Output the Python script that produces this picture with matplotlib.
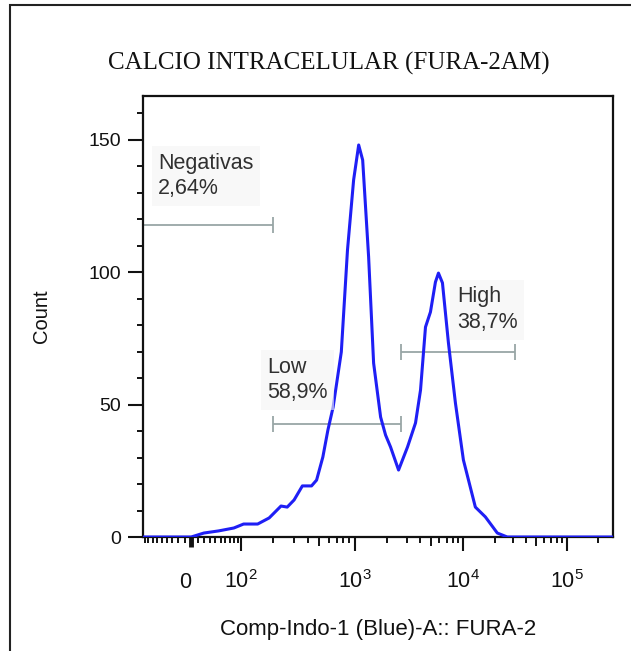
import numpy as np
import matplotlib
matplotlib.use('Agg')
import matplotlib.pyplot as plt
from matplotlib.patches import Rectangle

plt.rcParams['font.family'] = ['Liberation Sans', 'DejaVu Sans']
plt.rcParams['mathtext.fontset'] = 'custom'
plt.rcParams['mathtext.rm'] = 'Liberation Sans'
plt.rcParams['mathtext.it'] = 'Liberation Sans'

# histogram trace (fluorescence value, count)
fluo = [-95, -40, 0, 20, 46, 80, 106, 144, 183, 233, 264, 303, 357, 428, 473,
        535, 591, 655, 769, 868, 979, 1088, 1184, 1343, 1493, 1732, 1924, 2138,
        2533, 3062, 3628, 4033, 4480, 4977, 5530, 5896, 6417, 7285, 8447, 10000,
        13040, 16280, 21230, 26490, 277000]
counts = [0, 0, 0, 1.5, 2.3, 3.4, 4.9, 4.9, 7.2, 11.7, 11.3, 14.0, 19.3, 19.3, 21.5,
          30.2, 40.4, 49.1, 69.9, 108.4, 134.9, 148.1, 142.4, 105.8, 65.7, 45.3, 38.5, 34.0,
          25.3, 34.0, 43.1, 55.5, 79.3, 85.0, 96.3, 99.7, 96.0, 73.3, 50.6, 29.1,
          11.3, 7.6, 1.5, 0, 0]

# gates: name, percent, start, end, height, label anchor (x, y)
gate_names = ['Negativas', 'Low', 'High']
gate_pct = ['2,64%', '58,9%', '38,7%']
gate_start = [-95, 200, 2640]
gate_end = [200, 2640, 31600]
gate_y = [117.9, 42.7, 69.9]
label_x = [-57, 175, 8700]
label_y = [136.4, 59.3, 85.8]
gate_caps = [[200], [200, 2640], [2640, 31600]]

xtick_vals = [0, 1e2, 1e3, 1e4, 1e5]
xtick_labels = ['0', '$10^{2}$', '$10^{3}$', '$10^{4}$', '$10^{5}$']

# biexponential-like display: asinh space, stretched piecewise between decades
W = 60.0
anchor_vals = np.array([-100, 0, 1e2, 1e3, 1e4, 1e5, 1e6])
anchor_pos = np.array([140, 190, 240, 354, 463, 567, 671], dtype=float)
anchor_h = np.arcsinh(anchor_vals / W)


def fwd(v):
    return np.interp(np.arcsinh(np.asarray(v, dtype=float) / W), anchor_h, anchor_pos)


def inv(p):
    return W * np.sinh(np.interp(np.asarray(p, dtype=float), anchor_pos, anchor_h))


fig = plt.figure(figsize=(6.31, 6.51), dpi=100)
ax = fig.add_axes([143 / 631, 114 / 651, 470 / 631, 441 / 651])
ax.set_xscale('function', functions=(fwd, inv))

ax.plot(fluo, counts, color='#1f1ff5', lw=2.2, zorder=3, solid_joinstyle='round')

gate_col = '#98a6a6'
for i in range(len(gate_names)):
    ax.hlines(gate_y[i], gate_start[i], gate_end[i], color=gate_col, lw=1.3, zorder=2)
    ax.vlines(gate_caps[i], gate_y[i] - 3.1, gate_y[i] + 3.1, color=gate_col, lw=1.3, zorder=2)
    ax.text(label_x[i], label_y[i], gate_names[i] + '\n' + gate_pct[i], fontsize=15.5,
            color='#303030', ha='left', va='center', linespacing=1.3, zorder=4,
            bbox=dict(boxstyle='square,pad=0.3', facecolor='#f4f4f4', edgecolor='none', alpha=0.6))

ax.set_xlim(-95, 277000)
ax.set_ylim(0, 166.6)

# x ticks
minor = list(np.arange(-90, 0, 10)) + list(np.arange(10, 100, 10))
for d in [1e2, 1e3, 1e4]:
    minor += [k * d for k in range(2, 10)]
minor += [2e5]
ax.set_xticks(xtick_vals)
ax.set_xticklabels(xtick_labels)
ax.set_xticks(minor, minor=True)
ax.tick_params(axis='x', which='major', direction='out', length=10, width=1.5, pad=27,
               labelsize=15.5, colors='#111111')
ax.tick_params(axis='x', which='minor', direction='out', length=4.3, width=1.3)
for t in ax.xaxis.get_major_ticks():
    t.label1.set_verticalalignment('baseline')
zero_tick = ax.xaxis.get_major_ticks()[0]
zero_tick.tick1line.set_markersize(7)
zero_tick.tick1line.set_markeredgewidth(3.5)
zero_tick.label1.set_horizontalalignment('right')
for t, loc in zip(ax.xaxis.get_minor_ticks(len(minor)), minor):
    if loc > 100 and str(int(loc))[0] == '5':
        t.tick1line.set_markersize(6.5)

# y ticks
ax.set_yticks([0, 50, 100, 150])
ax.set_yticks(np.arange(10, 170, 10), minor=True)
ax.tick_params(axis='y', which='major', direction='out', length=10.8, width=1.5, pad=5,
               labelsize=14, colors='#111111')
ax.tick_params(axis='y', which='minor', direction='out', length=4.5, width=1.3)

for s in ax.spines.values():
    s.set_linewidth(1.6)
    s.set_color('#111111')

ax.set_xlabel('Comp-Indo-1 (Blue)-A:: FURA-2', fontsize=16, color='#111111')
ax.xaxis.set_label_coords(0.5, -0.186)
ax.set_ylabel('Count', fontsize=14.5, color='#111111')
ax.yaxis.set_label_coords(-0.196, 0.5)

fig.text(329 / 631, 1 - 63 / 651, 'CALCIO INTRACELULAR (FURA-2AM)', family='Liberation Serif',
         fontsize=18, ha='center', va='center', color='#111111')

# outer frame
fig.patches.append(Rectangle((10 / 631, -0.05), 1.2, 1.05 - 5 / 651, transform=fig.transFigure,
                             fill=False, lw=1.5, edgecolor='#222222'))

fig.savefig('out.png', dpi=100)
